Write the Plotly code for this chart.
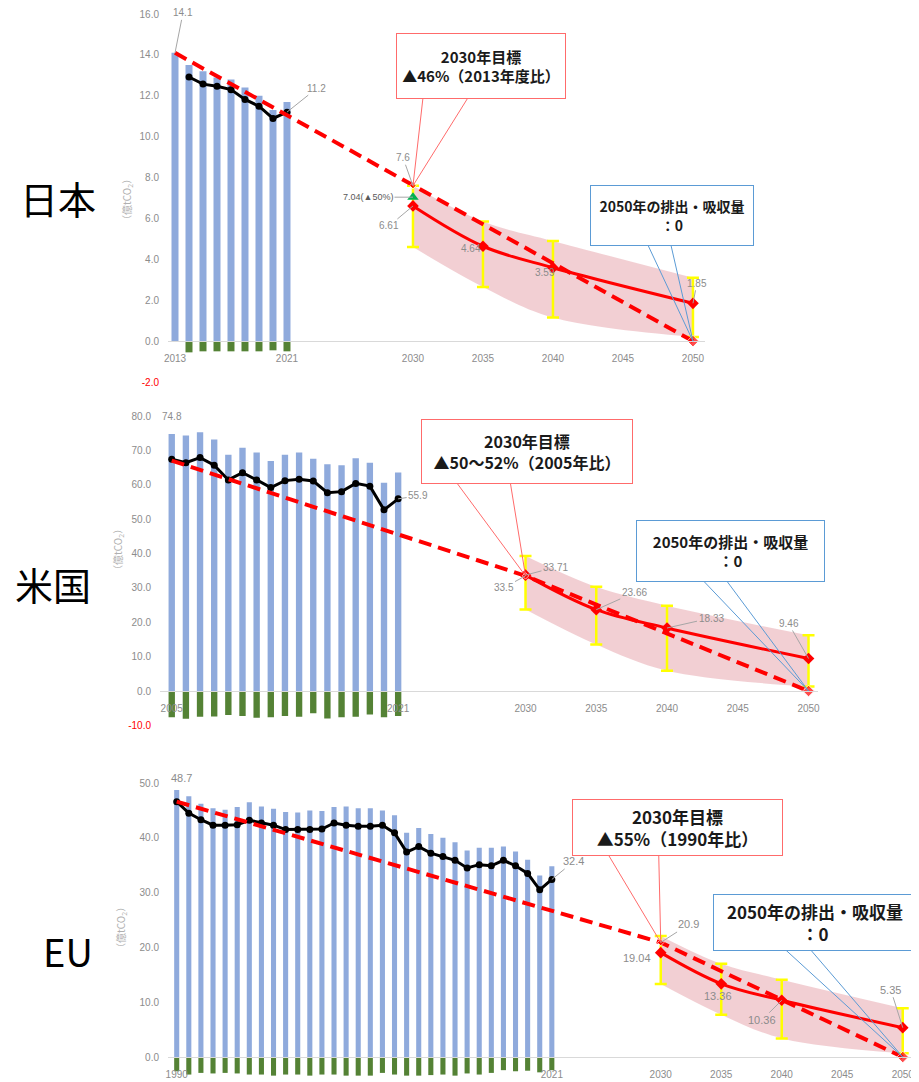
import plotly.graph_objects as go

# page body has an 8px margin, so the figure is laid out in page pixels minus OFF
OFF = 8
W, H = 919 - OFF, 1082 - OFF

# ---- 日本 (億tCO2) ----
jp_years = [2013, 2014, 2015, 2016, 2017, 2018, 2019, 2020, 2021]
jp_gross = [14.1, 13.5, 13.2, 12.9, 12.8, 12.4, 12.0, 11.3, 11.7]
jp_sink_years = [2014, 2015, 2016, 2017, 2018, 2019, 2020, 2021]
jp_sink = [-0.55, -0.5, -0.5, -0.5, -0.5, -0.5, -0.45, -0.5]
jp_net = [12.92, 12.57, 12.47, 12.30, 11.82, 11.49, 10.89, 11.2]
jp_path_years = [2013, 2030, 2050]
jp_path = [14.1, 7.6, 0.0]
jp_fc = [6.61, 4.64, 3.59, 1.85]
jp_hi = [7.6, 5.85, 4.9, 3.1]
jp_lo = [4.6, 2.65, 1.15, 0.2]
jp_alt_2030 = 7.04

# ---- 米国 ----
us_years = list(range(2005, 2022))
us_gross = [74.8, 74.3, 75.3, 73.2, 68.7, 70.8, 69.4, 66.9, 68.7, 69.4, 67.6, 66.0, 65.7, 67.7, 66.4, 60.6, 63.6]
us_sink = [-7.6, -8.1, -7.5, -7.4, -7.0, -7.3, -7.8, -7.6, -7.3, -7.5, -6.5, -8.0, -7.6, -7.5, -6.8, -7.6, -7.3]
us_net = [67.4, 66.4, 67.9, 65.7, 61.4, 63.5, 61.4, 59.2, 61.2, 61.6, 61.1, 57.7, 58.0, 60.4, 59.6, 52.7, 55.9]
us_path_years = [2005, 2030, 2050]
us_path = [67.0, 33.5, 0.0]
us_fc = [33.71, 23.66, 18.33, 9.46]
us_hi = [39.3, 30.3, 24.8, 16.2]
us_lo = [23.7, 13.5, 5.9, 1.3]

# ---- EU ----
eu_years = list(range(1990, 2022))
eu_gross = [48.7, 47.6, 46.2, 45.4, 45.1, 45.6, 46.5, 45.7, 45.3, 44.7, 44.6, 45.0, 44.9, 45.6, 45.7, 45.4,
            45.4, 45.0, 44.1, 40.9, 41.8, 40.7, 40.0, 39.2, 37.7, 38.2, 38.2, 38.4, 37.5, 36.0, 33.1, 34.8]
eu_sink = [-2.6, -3.2, -2.9, -3.0, -2.9, -3.0, -3.2, -3.2, -3.4, -3.2, -3.2, -3.4, -3.2, -3.2, -3.4, -3.4,
           -3.4, -2.9, -3.2, -3.4, -3.4, -3.3, -3.2, -3.4, -3.0, -3.2, -2.9, -2.4, -2.6, -2.5, -2.8, -2.4]
eu_net = [46.6, 44.5, 43.3, 42.3, 42.3, 42.4, 43.2, 42.7, 42.3, 41.5, 41.5, 41.5, 41.6, 42.7, 42.3, 42.1,
          42.1, 42.3, 40.9, 37.4, 38.4, 37.2, 36.6, 35.9, 34.5, 35.1, 34.9, 35.9, 34.9, 33.5, 30.5, 32.4]
eu_path_years = [1990, 2030, 2050]
eu_path = [46.6, 20.9, 0.0]
eu_fc = [19.04, 13.36, 10.36, 5.35]
eu_hi = [22.1, 17.0, 14.1, 8.9]
eu_lo = [13.3, 7.7, 3.4, 0.7]

fc_years = [2030, 2035, 2040, 2050]

BLUE = '#8faadc'
GREEN = '#548235'
RED = '#ff0000'
PINK = 'rgba(220,130,140,0.38)'
YELLOW = '#ffff00'
GRAY = '#8c8c8c'
BOX_RED = '#ff6b6b'
BOX_BLUE = '#5b9bd5'
NARROW = 'Liberation Sans Narrow, Liberation Sans, sans-serif'
TICKFONT = dict(family=NARROW, size=10, color=GRAY)
JP = 'Noto Sans CJK JP'

fig = go.Figure()


def add_panel(n, years, gross, sink_years, sink, net_years, net, path_years, path, fc, hi, lo, bw):
    xa, ya = ('x', 'y') if n == 1 else (f'x{n}', f'y{n}')
    kw = dict(xaxis=xa, yaxis=ya, showlegend=False, hoverinfo='skip')
    fig.add_trace(go.Bar(x=years, y=gross, width=bw, marker=dict(color=BLUE, line_width=0), **kw))
    fig.add_trace(go.Bar(x=sink_years, y=sink, width=bw, marker=dict(color=GREEN, line_width=0), **kw))
    fig.add_trace(go.Scatter(x=fc_years, y=hi, mode='lines', line=dict(width=0, shape='spline'), **kw))
    fig.add_trace(go.Scatter(x=fc_years, y=lo, mode='lines', line=dict(width=0, shape='spline'),
                             fill='tonexty', fillcolor=PINK, **kw))
    fig.add_trace(go.Scatter(x=net_years, y=net, mode='lines+markers',
                             line=dict(color='black', width=3),
                             marker=dict(color='black', size=7), **kw))
    fig.add_trace(go.Scatter(x=fc_years, y=fc, mode='lines+markers',
                             line=dict(color=RED, width=3, shape='spline'),
                             marker=dict(color=RED, size=9, symbol='diamond'),
                             error_y=dict(type='data', symmetric=False,
                                          array=[h - f for h, f in zip(hi, fc)],
                                          arrayminus=[f - l for f, l in zip(fc, lo)],
                                          color=YELLOW, thickness=2.5, width=6), **kw))
    fig.add_trace(go.Scatter(x=path_years, y=path, mode='lines+markers',
                             line=dict(color=RED, width=4, dash='13px,7px'),
                             marker=dict(color=RED, size=[0, 5, 9], symbol='diamond'), **kw))
    return xa, ya


ann = []
shapes = []


def lab(xa, ya, x, y, text, ax=0, ay=0, arrow=True, dx=0, dy=0, size=10, color=GRAY):
    ann.append(dict(xref=xa, yref=ya, x=x, y=y, text=text, showarrow=arrow, ax=ax, ay=ay,
                    arrowhead=0, arrowwidth=1, arrowcolor='#a6a6a6', xshift=dx, yshift=dy,
                    font=dict(family=NARROW, size=size, color=color)))


def callout(xa, ya, x, y, text, dx, dy, w, h, color, size, p1, p2):
    ann.append(dict(xref=xa, yref=ya, x=x, y=y, text=text, showarrow=False, xshift=dx, yshift=dy,
                    width=w - 4, height=h - 4, borderpad=1, bordercolor=color, borderwidth=1,
                    bgcolor='white', align='center', valign='middle',
                    font=dict(family=JP, size=size, color='#1a1a1a')))
    for ox, oy in (p1, p2):
        shapes.append(dict(type='line', xref=xa, yref=ya, xsizemode='pixel', ysizemode='pixel',
                           xanchor=x, yanchor=y, x0=0, y0=0, x1=ox, y1=oy,
                           line=dict(color=color, width=1)))


# Japan
xa, ya = add_panel(1, jp_years, jp_gross, jp_sink_years, jp_sink, jp_sink_years, jp_net,
                   jp_path_years, jp_path, jp_fc, jp_hi, jp_lo, 0.5)
fig.add_trace(go.Scatter(x=[fc_years[0]], y=[jp_alt_2030], mode='markers', showlegend=False,
                         marker=dict(color='#00b050', size=10, symbol='triangle-up'), xaxis=xa, yaxis=ya))
lab(xa, ya, jp_years[0], jp_gross[0], '14.1', ax=8, ay=-40)
lab(xa, ya, jp_sink_years[-1], jp_net[-1], '11.2', ax=30, ay=-24)
lab(xa, ya, fc_years[0], jp_path[1], '7.6', ax=-10, ay=-28)
lab(xa, ya, fc_years[0], jp_alt_2030, '7.04(▲50%)', ax=-45, ay=0, size=9, color='#595959')
lab(xa, ya, fc_years[0], jp_fc[0], '6.61', ax=-24, ay=20)
lab(xa, ya, fc_years[1], jp_fc[1], '4.64', arrow=False, dx=-12, dy=-2)
lab(xa, ya, fc_years[2], jp_fc[2], '3.59', arrow=False, dx=-8, dy=-5)
lab(xa, ya, fc_years[3], jp_fc[3], '1.85', ax=4, ay=-20)
callout(xa, ya, fc_years[0], jp_path[1], '<b>2030年目標<br>▲46%（2013年度比）</b>',
        68, 120, 170, 66, BOX_RED, 15, (10, 88), (55, 88))
callout(xa, ya, fc_years[3], jp_path[2], '<b>2050年の排出・吸収量<br>：0</b>',
        -21, 126, 164, 61, BOX_BLUE, 14, (-45, 96), (-22, 96))

# US
xa, ya = add_panel(2, us_years, us_gross, us_years, us_sink, us_years, us_net,
                   us_path_years, us_path, us_fc, us_hi, us_lo, 0.45)
lab(xa, ya, us_years[0], us_gross[0], '74.8', arrow=False, dy=17)
lab(xa, ya, us_years[-1], us_net[-1], '55.9', ax=20, ay=-3)
lab(xa, ya, fc_years[0], us_path[1], '33.5', ax=-22, ay=12)
lab(xa, ya, fc_years[0], us_fc[0], '33.71', ax=30, ay=-8)
lab(xa, ya, fc_years[1], us_fc[1], '23.66', ax=38, ay=-17)
lab(xa, ya, fc_years[2], us_fc[2], '18.33', ax=44, ay=-10)
lab(xa, ya, fc_years[3], us_fc[3], '9.46', ax=-20, ay=-35)
callout(xa, ya, fc_years[0], us_path[1], '<b>2030年目標<br>▲50～52%（2005年比）</b>',
        1, 124, 212, 65, BOX_RED, 16, (-68, 92), (-15, 92))
callout(xa, ya, fc_years[3], us_path[2], '<b>2050年の排出・吸収量<br>：0</b>',
        -78, 140, 189, 62, BOX_BLUE, 15, (-104, 109), (-81, 109))

# EU
xa, ya = add_panel(3, eu_years, eu_gross, eu_years, eu_sink, eu_years, eu_net,
                   eu_path_years, eu_path, eu_fc, eu_hi, eu_lo, 0.42)
lab(xa, ya, eu_years[0], eu_gross[0], '48.7', arrow=False, dx=5, dy=12, size=11)
lab(xa, ya, eu_years[-1], eu_net[-1], '32.4', ax=22, ay=-18, size=11)
lab(xa, ya, fc_years[0], eu_path[1], '20.9', ax=28, ay=-18, size=11)
lab(xa, ya, fc_years[0], eu_fc[0], '19.04', arrow=False, dx=-24, dy=-5, size=11)
lab(xa, ya, fc_years[1], eu_fc[1], '13.36', arrow=False, dx=-3, dy=-12, size=11)
lab(xa, ya, fc_years[2], eu_fc[2], '10.36', ax=-20, ay=20, size=11)
lab(xa, ya, fc_years[3], eu_fc[3], '5.35', ax=-12, ay=-38, size=11)
callout(xa, ya, fc_years[0], eu_path[1], '<b>2030年目標<br>▲55%（1990年比）</b>',
        17, 115, 211, 57, BOX_RED, 17, (-52, 87), (-2, 87))
callout(xa, ya, fc_years[3], eu_path[2], '<b>2050年の排出・吸収量<br>：0</b>',
        -88, 135, 204, 57, BOX_BLUE, 17, (-117, 107), (-92, 107))


def px(x):
    return (x - OFF) / W


def py(y):
    return 1 - (y - OFF) / H


# country names and unit titles (page pixel positions)
for name, cx, cy in [('日本', 58, 197), ('米国', 53, 583), ('EU', 68, 950)]:
    ann.append(dict(xref='paper', yref='paper', x=px(cx), y=py(cy), text=name, showarrow=False,
                    xanchor='center', yanchor='middle',
                    font=dict(family=JP, size=38, color='black')))
for cx, cy in [(127, 200), (118, 550), (121, 928)]:
    ann.append(dict(xref='paper', yref='paper', x=px(cx), y=py(cy), text='（億tCO<sub>2</sub>）',
                    showarrow=False, textangle=-90, xanchor='center', yanchor='middle',
                    font=dict(family=JP, size=10, color='#b0b0b0')))


def axes(l, r, xr, xt, t, b, yr, yt, red_bottom, xanchor):
    xd = [px(l), px(r)]
    yd = [max(0, py(b)), py(t)]
    pos = yd[0] + (0 - yr[0]) / (yr[1] - yr[0]) * (yd[1] - yd[0])
    xax = dict(domain=xd, range=xr, tickvals=xt, ticktext=[str(v) for v in xt], anchor='free',
               position=pos, showline=True, linecolor='#d9d9d9', linewidth=1, showgrid=False,
               zeroline=False, ticks='', tickfont=TICKFONT, ticklabelstandoff=8, automargin=False)
    tt = ['%.1f' % v for v in yt]
    if red_bottom:
        tt[0] = '<span style="color:#ff0000">%s</span>' % tt[0]
    yax = dict(domain=yd, range=yr, tickvals=yt, ticktext=tt, showgrid=False, zeroline=False,
               showline=False, ticks='', tickfont=TICKFONT, ticklabelstandoff=8, automargin=False,
               anchor=xanchor)
    return xax, yax


x1, y1 = axes(168, 705, [2012.5, 2050.86], [2013, 2021, 2030, 2035, 2040, 2045, 2050],
              14, 382, [-2, 16], [-2, 0, 2, 4, 6, 8, 10, 12, 14, 16], True, 'x')
x2, y2 = axes(160, 818, [2004.17, 2050.67], [2005, 2021, 2030, 2035, 2040, 2045, 2050],
              416, 725.4, [-10, 80], [-10, 0, 10, 20, 30, 40, 50, 60, 70, 80], True, 'x2')
x3, y3 = axes(168, 914, [1989.28, 2050.93], [1990, 2021, 2030, 2035, 2040, 2045, 2050],
              783, 1082, [-4.56, 50], [0, 10, 20, 30, 40, 50], False, 'x3')

fig.update_layout(
    width=W, height=H, margin=dict(l=0, r=0, t=0, b=0, autoexpand=False),
    paper_bgcolor='white', plot_bgcolor='white',
    barmode='relative', showlegend=False,
    xaxis=x1, yaxis=y1, xaxis2=x2, yaxis2=y2, xaxis3=x3, yaxis3=y3,
    annotations=ann, shapes=shapes,
)

fig.write_html('out.html')
